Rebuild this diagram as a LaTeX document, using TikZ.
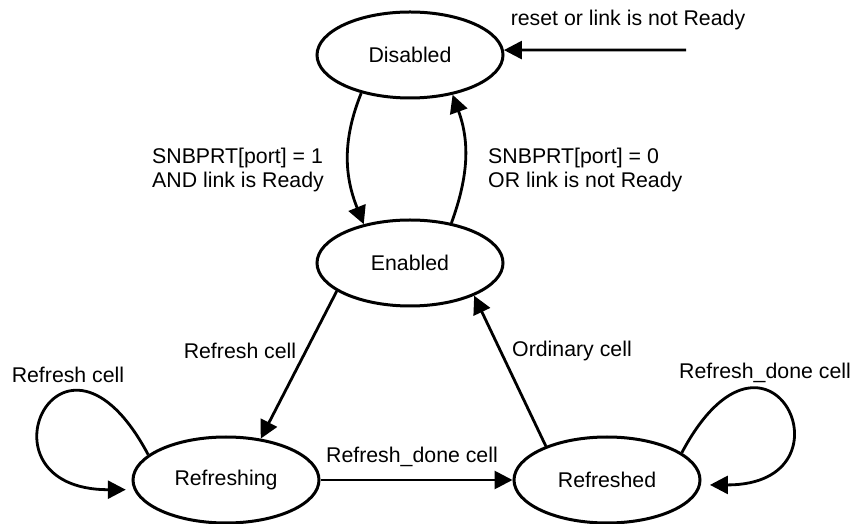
\documentclass[tikz,border=0pt]{standalone}
\usepackage{fontspec}
\setmainfont{Liberation Sans}
\usetikzlibrary{arrows.meta,shapes.geometric}

\begin{document}
\begin{tikzpicture}[x=1pt, y=1pt,
    font=\fontsize{21.3}{24}\selectfont,
    state/.style={draw, ellipse, line width=3pt, minimum width=186pt, minimum height=86pt, inner sep=0pt},
    trans/.style={-{Triangle[length=18pt,width=18pt]}, line width=2.8pt},
    lbl/.style={inner sep=0pt}]
    \useasboundingbox (0,0) rectangle (853,524);

    % States
    \node[state] (disabled) at (410, 469) {Disabled};
    \node[state] (enabled) at (410, 261) {Enabled};
    \node[state] (refreshing) at (226, 44) {Refreshing};
    \node[state] (refreshed) at (607, 44) {Refreshed};

    % Reset entry
    \coordinate (resetpt) at (686, 474);
    \draw[trans] (resetpt) -- (disabled.3);
    \node[lbl] (resetlbl) at (628, 504) {reset or link is not Ready};

    % Disabled <-> Enabled
    \draw[trans] (disabled.218) to[out=248, in=112] (enabled.140);
    \draw[trans] (enabled.44) to[out=70, in=290] (disabled.317);
    \node[lbl, anchor=west, align=left] (onlbl) at (152, 354) {SNBPRT[port] = 1\\AND link is Ready};
    \node[lbl, anchor=west, align=left] (offlbl) at (488, 354) {SNBPRT[port] = 0\\OR link is not Ready};

    % Enabled <-> refresh states
    \draw[trans] (enabled.201) -- (refreshing.50);
    \node[lbl] (refreshlbl) at (240, 173) {Refresh cell};
    \draw[trans] (refreshed.151) -- (enabled.333);
    \node[lbl] (ordinarylbl) at (572, 173) {Ordinary cell};

    % Refreshing -> Refreshed
    \draw[trans] (refreshing.east) -- (refreshed.west);
    \node[lbl] (donelbl) at (412, 67) {Refresh\_done cell};

    % Self loops
    \draw[trans, shorten >=8pt] (refreshing.162) to[out=118, in=180, out distance=185pt, in distance=165pt] (refreshing.186);
    \node[lbl] (looplbl) at (68, 149) {Refresh cell};
    \draw[trans, shorten >=9pt] (refreshed.20) to[out=62, in=0, out distance=185pt, in distance=160pt] (refreshed.357);
    \node[lbl] (doneloop) at (765, 151) {Refresh\_done cell};
\end{tikzpicture}
\end{document}
